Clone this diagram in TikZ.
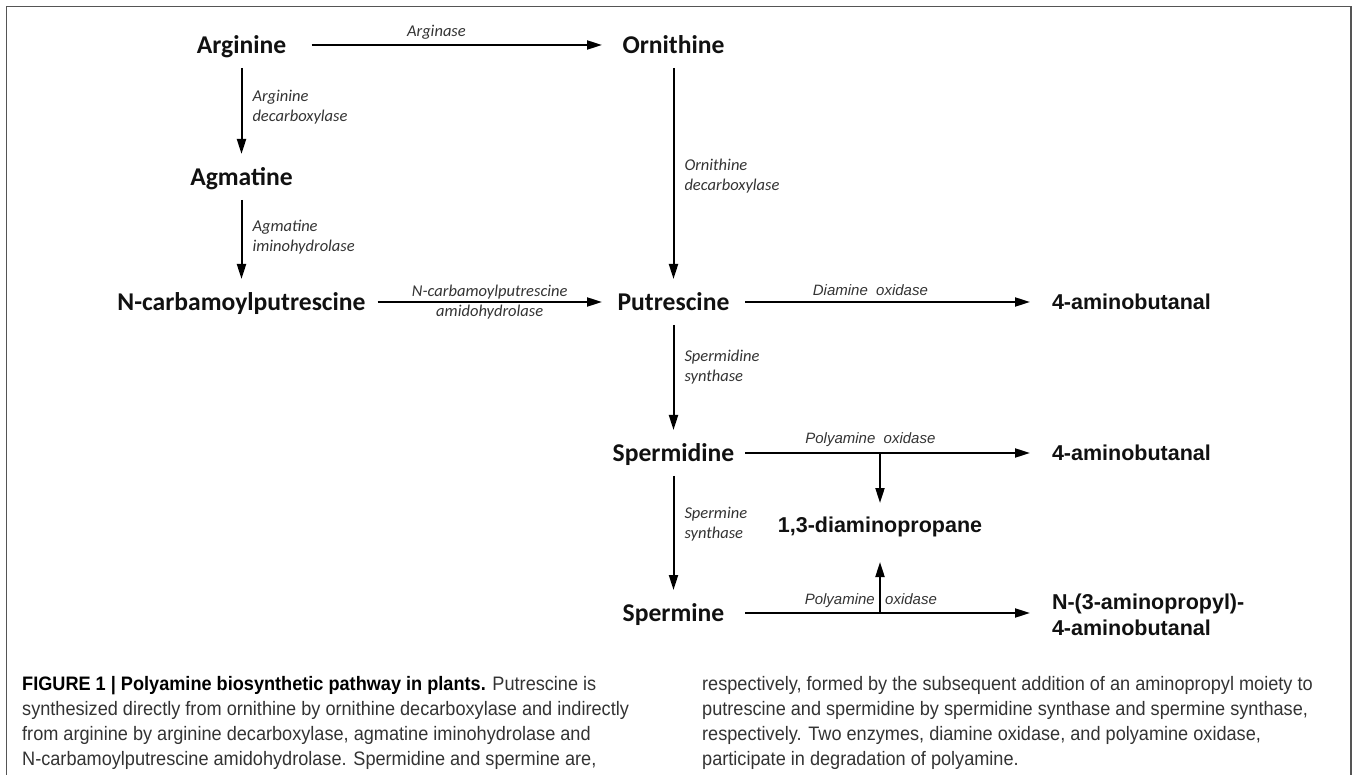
\documentclass[tikz,border=0pt]{standalone}
\usepackage{fontspec}
\setmainfont{Liberation Sans}
\newfontfamily\calibri{Carlito}
\newfontfamily\capfont{Liberation Sans}[FakeStretch=0.93]
\usepackage{xcolor}
\usepackage{tikz}
\usetikzlibrary{arrows.meta}
\definecolor{framegray}{HTML}{555555}
\definecolor{textgray}{HTML}{333333}
\definecolor{namegray}{HTML}{111111}
\tikzstyle{amine}=[inner sep=0pt,outer sep=0pt,text height=16.5pt,text depth=0pt,minimum height=46pt,text=namegray,font=\calibri\bfseries\fontsize{25.6}{30}\selectfont]
\tikzstyle{leftcol}=[amine,minimum width=140pt]
\tikzstyle{midcol}=[amine,minimum width=143pt]
\tikzstyle{product}=[anchor=west,inner xsep=22pt,inner ysep=0pt,outer sep=0pt,text=namegray,font=\bfseries\fontsize{21.5}{26}\selectfont]
\tikzstyle{productrow}=[product,text height=15.4pt,text depth=0pt,minimum height=44pt]
\tikzstyle{reaction}=[-{Triangle[length=15pt,width=9pt]},line width=2pt]
\tikzstyle{enzyme}=[anchor=west,xshift=10pt,inner sep=0pt,align=left,text=textgray,font=\calibri\itshape\fontsize{16.5}{20}\selectfont]
\tikzstyle{overarrow}=[anchor=base,inner sep=0pt,text=textgray,font=\calibri\itshape\fontsize{16.5}{20}\selectfont]
\tikzstyle{oxlabel}=[anchor=base,inner sep=0pt,text=textgray,font=\itshape\fontsize{15}{18}\selectfont]
\tikzstyle{caption}=[anchor=north west,inner sep=0pt,align=left,text=textgray,font=\capfont\fontsize{19.5}{25}\selectfont]

\begin{document}
\begin{tikzpicture}[x=1pt,y=-1pt]
        \useasboundingbox (0,0) rectangle (1358,775);
        \draw [framegray,line width=1.5pt] (6.5,775) -- (6.5,6.5) -- (1351,6.5) -- (1351,775);

        \node at (241.5,45)  [leftcol] (arg) {Arginine};
        \node at (673.5,45)  [midcol]  (orn) {Ornithine};
        \node at (241.5,177) [leftcol] (agm) {Agmatine};
        \node at (241.5,302) [leftcol,minimum width=272pt] (ncp) {N-carbamoylputrescine};
        \node at (673.5,302) [midcol]  (put) {Putrescine};
        \node at (1030,302)  [productrow] (ab1) {4-aminobutanal};
        \node at (673.5,453) [midcol]  (spd) {Spermidine};
        \node at (1030,453)  [productrow] (ab2) {4-aminobutanal};
        \node at (880,525)   [productrow,anchor=center,inner xsep=0pt] (dap) {1,3-diaminopropane};
        \node at (673.5,613) [midcol]  (spm) {Spermine};
        \node at (1030,615)  [product,align=left] (apab) {N-(3-aminopropyl)-\\4-aminobutanal};
        \coordinate (pao1) at (dap |- spd);
        \coordinate (pao2) at (dap |- spm);

        \draw [reaction] (arg) -- (orn) node [overarrow,pos=0.43,yshift=8pt] (ase) {Arginase};
        \draw [reaction] (arg) -- (agm) node [enzyme,pos=0.45] (adc) {Arginine\\decarboxylase};
        \draw [reaction] (agm) -- (ncp) node [enzyme,pos=0.475] (aih) {Agmatine\\iminohydrolase};
        \draw [reaction] (ncp) -- (put)
              node [overarrow,pos=0.5,yshift=5pt] (ncah) {N-carbamoylputrescine}
              node [overarrow,pos=0.5,yshift=-15pt] (ncah2) {amidohydrolase};
        \draw [reaction] (orn) -- (put) node [enzyme,pos=0.51] (odc) {Ornithine\\decarboxylase};
        \draw [reaction] (put) -- (ab1) node [oxlabel,pos=0.44,yshift=6pt] (dao) {Diamine\ \ oxidase};
        \draw [reaction] (put) -- (spd) node [enzyme,pos=0.40] (sds) {Spermidine\\synthase};
        \draw [reaction] (spd) -- (ab2) node [oxlabel,pos=0.44,yshift=9pt] (pao) {Polyamine\ \ oxidase};
        \draw [reaction] (spd) -- (spm) node [enzyme,pos=0.42] (sms) {Spermine\\synthase};
        \draw [reaction] (spm) -- (spm -| apab.west);
        \draw [reaction] (pao1) -- (dap);
        \draw [reaction,shorten >=15pt] (pao2) -- (dap);
        \node at (pao2) [oxlabel,anchor=base east,xshift=-5pt,yshift=9pt] (pal) {Polyamine};
        \node at (pao2) [oxlabel,anchor=base west,xshift=5pt,yshift=9pt] (par) {oxidase};

        \node at (22,676) [caption] (capl) {\textbf{\color{black}FIGURE 1 | Polyamine biosynthetic pathway in plants.} Putrescine is\\
              synthesized directly from ornithine by ornithine decarboxylase and indirectly\\
              from arginine by arginine decarboxylase, agmatine iminohydrolase and\\
              N-carbamoylputrescine amidohydrolase. Spermidine and spermine are,};
        \node at (702,676) [caption] (capr) {respectively, formed by the subsequent addition of an aminopropyl moiety to\\
              putrescine and spermidine by spermidine synthase and spermine synthase,\\
              respectively. Two enzymes, diamine oxidase, and polyamine oxidase,\\
              participate in degradation of polyamine.};
      \end{tikzpicture}
\end{document}
